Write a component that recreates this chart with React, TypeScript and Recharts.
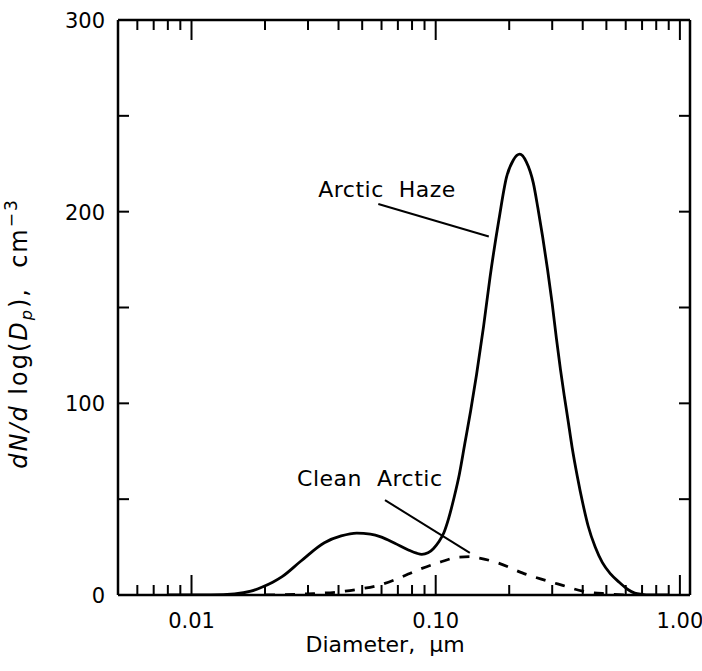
import { LineChart, Line, XAxis, YAxis, ReferenceLine, ReferenceDot } from "recharts";

// Arctic Haze (solid) – diameter in µm and dN/dlogDp in cm^-3
const HAZE_D = [0.008, 0.012, 0.015, 0.0175, 0.0195, 0.0215, 0.0235, 0.028, 0.035, 0.041, 0.0475, 0.054, 0.06, 0.068, 0.0773, 0.0835, 0.0877, 0.093, 0.098, 0.103, 0.108, 0.113, 0.119, 0.125, 0.1316, 0.139, 0.147, 0.157, 0.167, 0.1816, 0.195, 0.208, 0.221, 0.235, 0.251, 0.262, 0.274, 0.287, 0.3, 0.312, 0.324, 0.336, 0.3475, 0.362, 0.38, 0.4, 0.421, 0.45, 0.481, 0.52, 0.566, 0.61, 0.653, 0.7, 0.75, 0.9];
const HAZE_N = [0, 0.1, 0.6, 2, 4.2, 6.7, 9.6, 17.6, 27.3, 30.8, 32.3, 31.8, 30.2, 27, 23.5, 21.8, 21.2, 22, 24.3, 27.8, 32.5, 40, 51, 63, 79, 96, 115, 140, 166, 196, 218, 227, 230, 226, 215, 202, 187, 170, 152, 134, 118, 104, 92, 77, 62, 48, 36, 25, 17, 11, 6.5, 3, 1, 0.3, 0, 0];

// Clean Arctic (dashed)
const CLEAN_D = [0.02, 0.03, 0.04, 0.05, 0.058, 0.07, 0.085, 0.1035, 0.125, 0.14, 0.151, 0.182, 0.2275, 0.275, 0.331, 0.4, 0.5, 0.6];
const CLEAN_N = [0, 0.6, 1.6, 3.3, 5, 8.6, 13.2, 17, 19.8, 20, 19.3, 16.5, 11.4, 8, 5, 2, 0.6, 0];

const X_TICKS = [0.006, 0.007, 0.008, 0.009, 0.01, 0.02, 0.03, 0.04, 0.05, 0.06, 0.07, 0.08, 0.09, 0.1, 0.2, 0.3, 0.4, 0.5, 0.6, 0.7, 0.8, 0.9, 1];
const X_MAJOR = [0.01, 0.1, 1];
const X_LABELS = ["0.01", "0.10", "1.00"];
const Y_TICKS = [0, 50, 100, 150, 200, 250, 300];
const Y_LABELS = [0, 100, 200, 300];

// annotations
const NOTE_TEXT = ["Arctic  Haze", "Clean  Arctic"];
const NOTE_D = [0.0632, 0.0537];
const NOTE_N = [212, 61];
const LEADER_D = [[0.0582, 0.165], [0.062, 0.138]];
const LEADER_N = [[204, 187], [49.5, 22]];

const haze = HAZE_D.map((d, i) => ({ d, n: HAZE_N[i] }));
const clean = CLEAN_D.map((d, i) => ({ d, n: CLEAN_N[i] }));

const INK = "#000";
const FONT = "'DejaVu Sans', sans-serif";

function BottomTick(props: any) {
  const { x, y, payload } = props;
  const i = X_MAJOR.indexOf(payload.value);
  return (
    <g>
      <line x1={x} x2={x} y1={y} y2={y - (i >= 0 ? 20 : 10)} stroke={INK} strokeWidth={2} />
      {i >= 0 && (
        <text x={x} y={y + 33} textAnchor="middle" fontFamily={FONT} fontSize={21} fill={INK}>
          {X_LABELS[i]}
        </text>
      )}
    </g>
  );
}

function TopTick(props: any) {
  const { x, y, payload } = props;
  const major = X_MAJOR.includes(payload.value);
  return <line x1={x} x2={x} y1={y} y2={y + (major ? 20 : 10)} stroke={INK} strokeWidth={2} />;
}

function LeftTick(props: any) {
  const { x, y, payload } = props;
  return (
    <g>
      <line x1={x} x2={x + 11} y1={y} y2={y} stroke={INK} strokeWidth={2} />
      {Y_LABELS.includes(payload.value) && (
        <text x={x - 13} y={y + 8} textAnchor="end" fontFamily={FONT} fontSize={21} fill={INK}>
          {payload.value}
        </text>
      )}
    </g>
  );
}

function RightTick(props: any) {
  const { x, y } = props;
  return <line x1={x} x2={x - 11} y1={y} y2={y} stroke={INK} strokeWidth={2} />;
}

function xTitle(props: any) {
  const vb = props.viewBox;
  return (
    <text x={vb.x + vb.width / 2 - 19} y={vb.y + 57} textAnchor="middle" fontFamily={FONT} fontSize={22} fill={INK}>
      Diameter,{"\u00a0"} µm
    </text>
  );
}

function yTitle(props: any) {
  const vb = props.viewBox;
  const cx = vb.x + 27;
  const cy = vb.y + vb.height / 2 + 26;
  return (
    <text
      x={cx}
      y={cy}
      transform={`rotate(-90, ${cx}, ${cy})`}
      textAnchor="middle"
      fontFamily={FONT}
      fontSize={24}
      letterSpacing={2}
      fill={INK}
      style={{ whiteSpace: "pre" }}
    >
      <tspan fontStyle="italic">dN/d</tspan>
      <tspan>{" log("}</tspan>
      <tspan fontStyle="italic">D</tspan>
      <tspan fontStyle="italic" fontSize={16} dy={5}>p</tspan>
      <tspan dy={-5}>{"),  cm"}</tspan>
      <tspan fontSize={17} dy={-10}>−3</tspan>
    </text>
  );
}

function note(text: string) {
  return (props: any) => {
    const vb = props.viewBox;
    return (
      <text
        x={vb.x + vb.width / 2}
        y={vb.y + vb.height / 2 + 8}
        textAnchor="middle"
        fontFamily={FONT}
        fontSize={22}
        letterSpacing={0.5}
        fill={INK}
        style={{ whiteSpace: "pre" }}
      >
        {text}
      </text>
    );
  };
}

const axisLine = { stroke: INK, strokeWidth: 2.5 };

export default function App() {
  return (
    <div style={{ position: "absolute", left: 0, top: 0, background: "#fff" }}>
      <LineChart width={702} height={671} margin={{ top: 0, right: 0, bottom: 0, left: 0 }}>
        <XAxis
          xAxisId="b"
          dataKey="d"
          type="number"
          scale="log"
          domain={[0.005, 1.1]}
          allowDataOverflow
          ticks={X_TICKS}
          interval={0}
          tick={<BottomTick />}
          tickLine={false}
          tickSize={0}
          tickMargin={0}
          axisLine={axisLine}
          height={76}
          label={{ content: xTitle }}
        />
        <XAxis
          xAxisId="t"
          orientation="top"
          dataKey="d"
          type="number"
          scale="log"
          domain={[0.005, 1.1]}
          allowDataOverflow
          ticks={X_TICKS}
          interval={0}
          tick={<TopTick />}
          tickLine={false}
          tickSize={0}
          tickMargin={0}
          axisLine={axisLine}
          height={20}
        />
        <YAxis
          yAxisId="l"
          type="number"
          domain={[0, 300]}
          allowDataOverflow
          ticks={Y_TICKS}
          interval={0}
          tick={<LeftTick />}
          tickLine={false}
          tickSize={0}
          tickMargin={0}
          axisLine={axisLine}
          width={118}
          label={{ content: yTitle }}
        />
        <YAxis
          yAxisId="r"
          orientation="right"
          type="number"
          domain={[0, 300]}
          allowDataOverflow
          ticks={Y_TICKS}
          interval={0}
          tick={<RightTick />}
          tickLine={false}
          tickSize={0}
          tickMargin={0}
          axisLine={axisLine}
          width={12}
        />
        <Line
          xAxisId="b"
          yAxisId="l"
          data={clean}
          dataKey="n"
          type="monotone"
          stroke={INK}
          strokeWidth={2.8}
          strokeDasharray="10 10"
          dot={false}
          isAnimationActive={false}
        />
        <Line
          xAxisId="b"
          yAxisId="l"
          data={haze}
          dataKey="n"
          type="monotone"
          stroke={INK}
          strokeWidth={2.8}
          dot={false}
          isAnimationActive={false}
        />
        {LEADER_D.map((ds, i) => (
          <ReferenceLine
            key={`leader-${i}`}
            xAxisId="b"
            yAxisId="l"
            segment={[
              { x: ds[0], y: LEADER_N[i][0] },
              { x: ds[1], y: LEADER_N[i][1] },
            ]}
            stroke={INK}
            strokeWidth={2}
          />
        ))}
        {NOTE_TEXT.map((t, i) => (
          <ReferenceDot
            key={`note-${i}`}
            xAxisId="b"
            yAxisId="l"
            x={NOTE_D[i]}
            y={NOTE_N[i]}
            r={0}
            fill="none"
            stroke="none"
            label={{ content: note(t) }}
          />
        ))}
      </LineChart>
    </div>
  );
}
